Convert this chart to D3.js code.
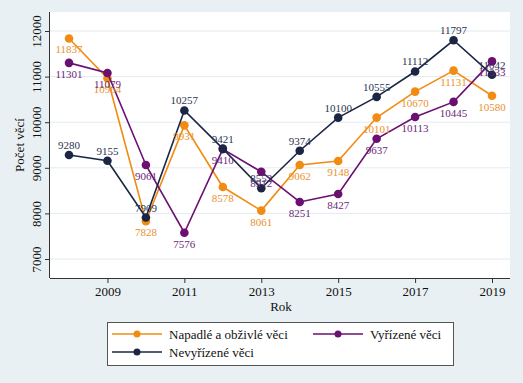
<!DOCTYPE html>
<html><head><meta charset="utf-8">
<script src="https://cdn.jsdelivr.net/npm/d3@7"></script>
<style>body{margin:0;background:#e9f0f3}svg{display:block}
svg text{font-family:"Liberation Serif","Times New Roman","DejaVu Serif",serif !important;}</style>
</head><body>
<svg id="c" width="523" height="383"></svg>
<script>
const years = [2008,2009,2010,2011,2012,2013,2014,2015,2016,2017,2018,2019];
const napadle = [11837,10964,7828,9931,8578,8061,9062,9148,10101,10670,11131,10580];
const vyrizene = [11301,11079,9061,7576,9410,8912,8251,8427,9637,10113,10445,11333];
const nevyrizene = [9280,9155,7909,10257,9421,8552,9374,10100,10555,11112,11797,11042];
const xTicks = [2009,2011,2013,2015,2017,2019];
const yTicks = [7000,8000,9000,10000,11000,12000];
const seriesNames = ["Napadlé a obživlé věci","Vyřízené věci","Nevyřízené věci"];

const colors = ["#f28b12","#6b0f72","#1b2645"];
const labelColors = ["#e8922e","#6b1f7a","#2a3450"];
const labelPos = ["below","below","above"];
const series = [napadle, vyrizene, nevyrizene];

const svg = d3.select("#c");
const L=50, R=510, T=12, B=278;
svg.append("rect").attr("width",523).attr("height",383).attr("fill","#e9f0f3");
svg.append("rect").attr("x",L).attr("y",T).attr("width",R-L).attr("height",B-T).attr("fill","#fff");

const x = d3.scaleLinear().domain([2008,2019]).range([69,492]);
const y = d3.scaleLinear().domain([7000,12000]).range([259,31]);

svg.append("g").selectAll("line").data(yTicks).join("line")
  .attr("x1",L).attr("x2",R).attr("y1",d=>y(d)).attr("y2",d=>y(d))
  .attr("stroke","#e3eaee").attr("stroke-width",1);

const yAxis = svg.append("g").attr("transform",`translate(${L},0)`)
  .call(d3.axisLeft(y).tickValues(yTicks).tickSize(5).tickFormat(d3.format("d")));
yAxis.attr("font-family",null);
yAxis.select(".domain").attr("d",`M-0.5,${T}V${B}`).attr("stroke","#333");
yAxis.selectAll(".tick line").attr("stroke","#333");
yAxis.selectAll(".tick text").attr("font-size",13).attr("fill","#111")
  .attr("transform","rotate(-90)").attr("x",0).attr("y",-9).attr("dy","0").attr("text-anchor","middle");

const xAxis = svg.append("g").attr("transform",`translate(0,${B})`)
  .call(d3.axisBottom(x).tickValues(xTicks).tickSize(5).tickFormat(d3.format("d")));
xAxis.attr("font-family",null);
xAxis.select(".domain").attr("d",`M${L},0.5H${R}`).attr("stroke","#333");
xAxis.selectAll(".tick line").attr("stroke","#333");
xAxis.selectAll(".tick text").attr("font-size",13).attr("fill","#111").attr("y",9);

svg.append("text").attr("x",281).attr("y",311).attr("text-anchor","middle")
  .attr("font-size",13).attr("fill","#111").text("Rok");
svg.append("text").attr("transform","translate(24,145) rotate(-90)").attr("text-anchor","middle")
  .attr("font-size",13).attr("fill","#111").text("Počet věcí");

const line = d3.line().x((d,i)=>x(years[i])).y(d=>y(d));
series.forEach((s,k)=>{
  const g = svg.append("g");
  g.append("path").datum(s).attr("d",line).attr("fill","none").attr("stroke",colors[k]).attr("stroke-width",1.6);
  g.selectAll("circle").data(s).join("circle").attr("cx",(d,i)=>x(years[i])).attr("cy",d=>y(d)).attr("r",4.3).attr("fill",colors[k]);
});
series.forEach((s,k)=>{
  svg.append("g").selectAll("text").data(s).join("text")
    .attr("x",(d,i)=>x(years[i])).attr("y",d=>y(d)+(labelPos[k]==="below"?15:-6))
    .attr("text-anchor","middle").attr("font-size",11)
    .attr("fill",labelColors[k]).text(d=>d);
});

const lg = svg.append("g");
lg.append("rect").attr("x",107.5).attr("y",322.5).attr("width",346).attr("height",43).attr("fill","#fff").attr("stroke","#555");
const items = [{k:0,x:112,y:334},{k:1,x:313,y:334},{k:2,x:112,y:352}];
items.forEach(it=>{
  lg.append("line").attr("x1",it.x).attr("x2",it.x+50).attr("y1",it.y).attr("y2",it.y).attr("stroke",colors[it.k]).attr("stroke-width",1.6);
  lg.append("circle").attr("cx",it.x+25).attr("cy",it.y).attr("r",3.5).attr("fill",colors[it.k]);
  lg.append("text").attr("x",it.x+57).attr("y",it.y+4.5).attr("font-size",13).attr("fill","#111").text(seriesNames[it.k]);
});
</script>
</body></html>
